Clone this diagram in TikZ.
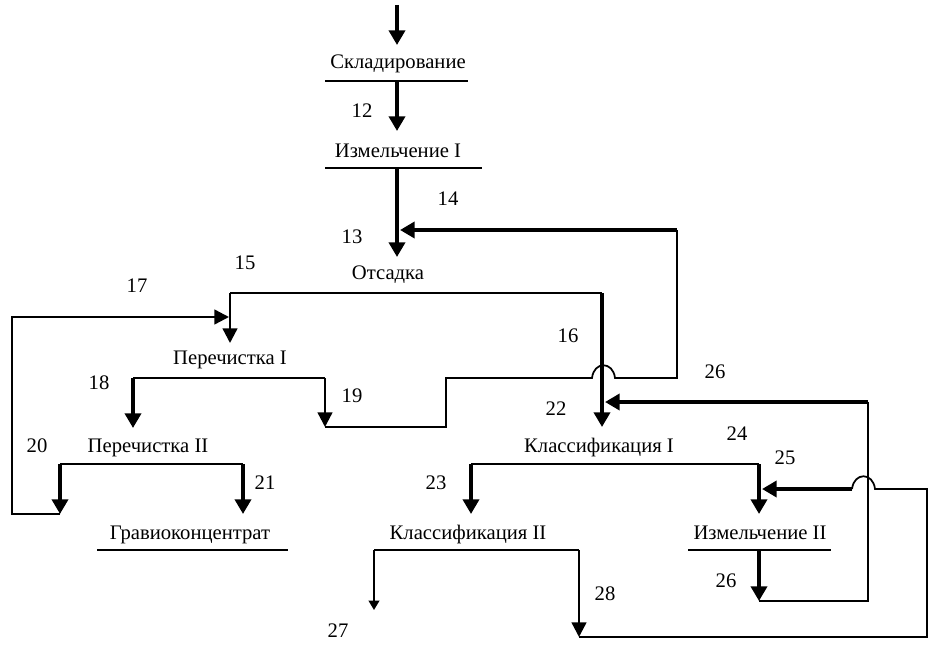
\documentclass[tikz,border=0pt]{standalone}
\usepackage{fontspec}
\setmainfont{Liberation Serif}
\usepackage{tikz}
\usetikzlibrary{arrows.meta}
\usetikzlibrary{positioning}

\tikzset{
  oper/.style={anchor=base, inner sep=0pt, font=\fontsize{15.5}{18}\selectfont},
  num/.style={anchor=base, inner sep=0pt, font=\fontsize{15.5}{18}\selectfont},
  bar/.style={line width=1pt},
  flow/.style={line width=1.3pt},
  big/.style={line width=2.8pt, -{Triangle[length=11pt,width=12pt]}},
  mid/.style={line width=1.8pt, -{Triangle[length=11pt,width=11pt]}},
  small/.style={line width=1.3pt, -{Triangle[length=7pt,width=8pt]}},
}

\begin{document}
\begin{tikzpicture}[x=0.75pt,y=-0.75pt]
        \useasboundingbox (0,0) rectangle (938,656);

        % Operations
        \node[oper] (sklad) at (398,69) {Складирование};
        \node[oper] (izm1) at (398,157) {Измельчение I};
        \node[oper] (otsad) at (388,279) {Отсадка};
        \node[oper] (per1) at (230,364) {Перечистка I};
        \node[oper] (per2) at (148,452) {Перечистка II};
        \node[oper] (grav) at (190,539) {Гравиоконцентрат};
        \node[oper] (kl1) at (599,452) {Классификация I};
        \node[oper] (kl2) at (468,539) {Классификация II};
        \node[oper] (izm2) at (760,539) {Измельчение II};

        % Numeros des produits
        \node[num] (n12) at (362,118) {12};
        \node[num] (n13) at (352,243) {13};
        \node[num] (n14) at (448,205) {14};
        \node[num] (n15) at (245,269) {15};
        \node[num] (n16) at (568,342) {16};
        \node[num] (n17) at (137,292) {17};
        \node[num] (n18) at (99,389) {18};
        \node[num] (n19) at (352,402) {19};
        \node[num] (n20) at (37,452) {20};
        \node[num] (n21) at (265,489) {21};
        \node[num] (n22) at (556,415) {22};
        \node[num] (n23) at (436,489) {23};
        \node[num] (n24) at (737,440) {24};
        \node[num] (n25) at (785,464) {25};
        \node[num] (n26a) at (715,378) {26};
        \node[num] (n26b) at (726,587) {26};
        \node[num] (n27) at (338,637) {27};
        \node[num] (n28) at (605,600) {28};

        % Points de raccordement
        \coordinate (in) at (397,5);      \coordinate (t-in) at (397,45);
        \coordinate (b1l) at (325,81);    \coordinate (b1r) at (468,81);
        \coordinate (b1) at (397,81);     \coordinate (t12) at (397,131);
        \coordinate (b2l) at (325,168);   \coordinate (b2r) at (482,168);
        \coordinate (b2) at (397,168);    \coordinate (t13) at (397,257);
        \coordinate (c14) at (677,230);   \coordinate (t14) at (400,230);
        \coordinate (s3l) at (230,293);   \coordinate (s3r) at (602,293);
        \coordinate (t15) at (230,343);   \coordinate (t16) at (602,427);
        \coordinate (c17a) at (12,514);   \coordinate (c17b) at (12,317);
        \coordinate (t17) at (229,317);
        \coordinate (s4l) at (133,378);   \coordinate (s4r) at (325,378);
        \coordinate (t18) at (133,428);   \coordinate (t19) at (325,427);
        \coordinate (c19a) at (446,427);  \coordinate (c19b) at (446,378);
        \coordinate (h19l) at (592,378);  \coordinate (h19r) at (615,378);
        \coordinate (c19c) at (677,378);
        \coordinate (s5l) at (60,464);    \coordinate (s5r) at (243,464);
        \coordinate (t20) at (60,514);    \coordinate (t21) at (243,514);
        \coordinate (b6l) at (97,550);    \coordinate (b6r) at (288,550);
        \coordinate (s7l) at (471,464);   \coordinate (s7r) at (759,464);
        \coordinate (t23) at (471,514);   \coordinate (t24) at (759,514);
        \coordinate (b8l) at (688,550);   \coordinate (b8r) at (831,550);
        \coordinate (b8) at (759,550);    \coordinate (t26) at (759,601);
        \coordinate (c26a) at (868,601);  \coordinate (c26b) at (868,402);
        \coordinate (t26b) at (605,402);
        \coordinate (s9l) at (374,550);   \coordinate (s9r) at (579,550);
        \coordinate (t27) at (374,610);   \coordinate (t28) at (579,637);
        \coordinate (c28a) at (927,637);  \coordinate (c25a) at (927,489);
        \coordinate (h25r) at (875,489);  \coordinate (h25l) at (852,489);
        \coordinate (t25) at (762,489);

        % Traits sous les operations
        \draw[bar] (b1l) -- (b1r);
        \draw[bar] (b2l) -- (b2r);
        \draw[bar] (b6l) -- (b6r);
        \draw[bar] (b8l) -- (b8r);

        % Flux principal
        \draw[big] (in) -- (t-in);
        \draw[big] (b1) -- (t12);
        \draw[big] (b2) -- (t13);

        % Отсадка
        \draw[flow] (s3l) -- (s3r);
        \draw[mid] (s3l) -- (t15);
        \draw[big] (s3r) -- (t16);

        % Перечистка I et retour 19 vers 14
        \draw[flow] (s4l) -- (s4r);
        \draw[big] (s4l) -- (t18);
        \draw[mid] (s4r) -- (t19);
        \draw[flow] (t19) -- (c19a) -- (c19b) -- (h19l)
              .. controls (594,361) and (613,361) .. (h19r) -- (c19c) -- (c14);
        \draw[big] (c14) -- (t14);

        % Перечистка II et retour 20/17
        \draw[flow] (s5l) -- (s5r);
        \draw[big] (s5l) -- (t20);
        \draw[big] (s5r) -- (t21);
        \draw[mid] (t20) -- (c17a) -- (c17b) -- (t17);

        % Классификация I
        \draw[flow] (s7l) -- (s7r);
        \draw[big] (s7l) -- (t23);
        \draw[big] (s7r) -- (t24);

        % Измельчение II et retour 26
        \draw[big] (b8) -- (t26);
        \draw[flow] (t26) -- (c26a) -- (c26b);
        \draw[big] (c26b) -- (t26b);

        % Классификация II, 27 et retour 28/25
        \draw[flow] (s9l) -- (s9r);
        \draw[small] (s9l) -- (t27);
        \draw[mid] (s9r) -- (t28);
        \draw[flow] (t28) -- (c28a) -- (c25a) -- (h25r)
              .. controls (873,472) and (854,472) .. (h25l);
        \draw[big] (h25l) -- (t25);
\end{tikzpicture}
\end{document}
